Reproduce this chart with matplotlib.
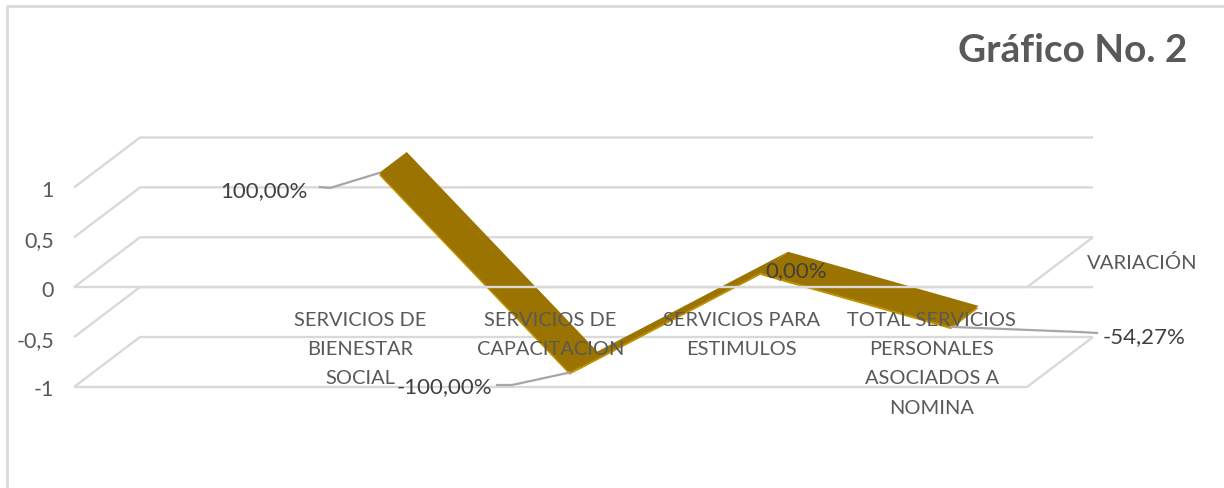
import matplotlib.pyplot as plt
import numpy as np
from matplotlib.patches import Polygon
from matplotlib.transforms import Affine2D

W, H = 1224, 489

# primera categoria vacia, como en el grafico original
categorias = ["", "SERVICIOS DE\nBIENESTAR\nSOCIAL", "SERVICIOS DE\nCAPACITACION",
              "SERVICIOS PARA\nESTIMULOS", "TOTAL SERVICIOS\nPERSONALES\nASOCIADOS A\nNOMINA"]
variacion = [1.0, -1.0, 0.0, -0.5427]
etiquetas = ["100,00%", "-100,00%", "0,00%", "-54,27%"]
ticks_y = [-1, -0.5, 0, 0.5, 1]
ticks_txt = ["-1", "-0,5", "0", "0,5", "1"]
serie = "VARIACIÓN"

GRIS = "#d9d9d9"
TEXTO = "#595959"
ORO = "#9a7300"
ORO_CLARO = "#bf9000"

plt.rcParams['font.family'] = ['Lato', 'DejaVu Sans']

fig = plt.figure(figsize=(W / 100, H / 100), dpi=100)

# plano frontal: x de 74 a 1027 px, y de -1 (387 px) a 1 (188 px)
ax = fig.add_axes([74 / W, 1 - 388 / H, 953 / W, 199.5 / H])
ax.set_xlim(0, 5)
ax.set_ylim(-1, 1)
ax.axis('off')
ax.patch.set_alpha(0)

# desplazamiento de profundidad en unidades de datos
DX = 66 / (953 / 5)
DY = 50 / (199.5 / 2)

px = Affine2D().scale(1 / W, -1 / H).translate(0, 1) + fig.transFigure


def proy(x, y, d):
    return x + d * DX, y + d * DY


def linea(xs, ys, z=1, lw=1.7, color=GRIS):
    ax.plot(xs, ys, color=color, lw=lw, zorder=z, clip_on=False, solid_capstyle='butt')


# rejilla: pared del fondo y pared izquierda
for v in ticks_y:
    x0, y0 = proy(0, v, 0)
    x1, y1 = proy(0, v, 1)
    x2, y2 = proy(5, v, 1)
    linea([x0, x1, x2], [y0, y1, y2])

# piso en -1 y en 0
for v, z in [(-1, 1), (0, 5)]:
    x0, y0 = proy(0, v, 0)
    x1, y1 = proy(5, v, 0)
    x2, y2 = proy(5, v, 1)
    linea([x0, x1], [y0, y1], z=z)
    linea([x1, x2], [y1, y2], z=1)

# cinta 3D
xs = np.arange(len(variacion)) + 1.5
d_frente, d_fondo = 0.29, 0.71
caida = 2.2 * (2 / 199.5)  # grosor del borde claro
for i in range(len(variacion) - 1):
    p = [proy(xs[i], variacion[i], d_frente), proy(xs[i + 1], variacion[i + 1], d_frente),
         proy(xs[i + 1], variacion[i + 1], d_fondo), proy(xs[i], variacion[i], d_fondo)]
    borde = [(a, b - caida) for a, b in p]
    ax.add_patch(Polygon(borde, closed=True, fc=ORO_CLARO, ec='none', zorder=3, clip_on=False))
    ax.add_patch(Polygon(p, closed=True, fc=ORO, ec='none', zorder=4, clip_on=False))

# lineas guia de las etiquetas
guias = [[(320, 188), (330, 189)], [(497, 386), (512, 386)], [(1097, 334), (1080, 333)]]
for j, g in zip([0, 1, 3], guias):
    fx, fy = ax.transData.transform(proy(xs[j], variacion[j], d_frente))
    fy = H - fy
    gx = [g[0][0], g[1][0], fx]
    gy = [g[0][1], g[1][1], fy]
    ax.plot(gx, gy, color="#a6a6a6", lw=1.6, transform=px, zorder=6, clip_on=False)

# marco exterior
ax.plot([7, 7, W], [H, 7, 7], color=GRIS, lw=2, transform=px, clip_on=False, zorder=0)

# textos
fig.text(958 / W, 1 - 51 / H, "Gráfico No. 2", fontsize=27.9, fontweight='bold', color=TEXTO,
         ha='left', va='center')

for v, t in zip(ticks_y, ticks_txt):
    _, fy = ax.transData.transform((0, v))
    fig.text(54 / W, (fy - 8.5) / H, t, fontsize=15.5, color=TEXTO, ha='right', va='baseline')

for i, c in enumerate(categorias):
    fx, _ = ax.transData.transform((i + 0.5, 0))
    if c:
        fig.text(fx / W, 1 - 312 / H, c, fontsize=14.4, color=TEXTO, ha='center', va='top',
                 linespacing=1.87, zorder=8)

pos_etq = [(264, 191), (444, 387), (796, 271), (1144, 337)]
for t, (a, b) in zip(etiquetas, pos_etq):
    fig.text(a / W, 1 - b / H, t, fontsize=16, color="#404040", ha='center', va='center', zorder=8)

fig.text(1142.5 / W, 1 - 263 / H, serie, fontsize=14.6, color=TEXTO, ha='center', va='center')

fig.savefig("out.png", dpi=100, facecolor='white')
